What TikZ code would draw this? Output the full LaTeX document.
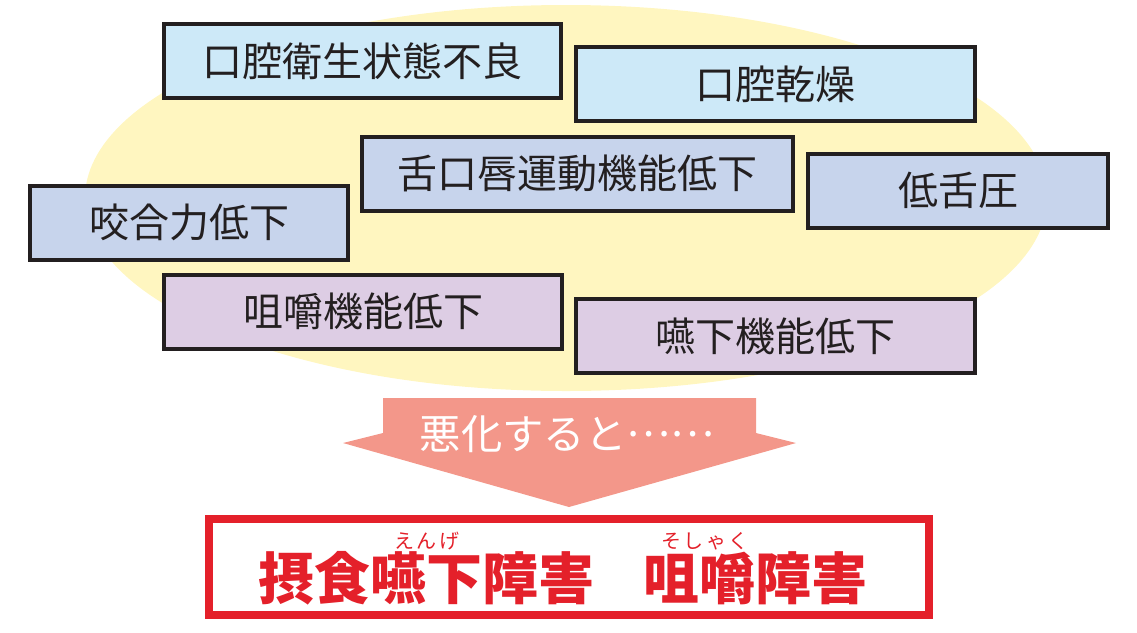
\documentclass[tikz,border=0pt]{standalone}
\usepackage{fontspec}
\newfontfamily\jpfont{Noto Sans CJK JP}
\newfontfamily\rubyfont{Noto Sans CJK JP}[LetterSpace=12]
\definecolor{ink}{HTML}{231F20}
\definecolor{halo}{HTML}{FFF6C0}
\definecolor{oralblue}{HTML}{CDE9F8}
\definecolor{motorblue}{HTML}{C7D4EC}
\definecolor{funcpurple}{HTML}{DDCDE4}
\definecolor{worse}{HTML}{F3978A}
\definecolor{alarm}{HTML}{E4202A}

\begin{document}
\begin{tikzpicture}[
    x=0.75pt, y=-0.75pt,
    every node/.style={font=\jpfont\fontsize{30}{32}\selectfont, text=ink, inner sep=0pt},
    cause/.style={draw=ink, line width=3pt, minimum height=55.5pt},
    oral/.style={cause, fill=oralblue},
    motor/.style={cause, fill=motorblue},
    func/.style={cause, fill=funcpurple},
    result/.style={text=alarm, font=\jpfont\bfseries\fontsize{42}{44}\selectfont},
    ruby/.style={text=alarm, font=\rubyfont\fontsize{15}{17}\selectfont}
]

\useasboundingbox (0,0) rectangle (1137,632);
\fill[halo] (566,198) ellipse [x radius=481, y radius=193];

\node[oral, minimum width=297.75pt] (hygiene) at (362.5,61) {口腔衛生状態不良};
\node[oral, minimum width=299.25pt] (dryness) at (775.5,84) {口腔乾燥};
\node[motor, minimum width=323.25pt] (lipmotor) at (577.5,173.5) {舌口唇運動機能低下};
\node[motor, minimum width=225pt] (tongue) at (958,190.5) {低舌圧};
\node[motor, minimum width=238.5pt] (bite) at (189,222.5) {咬合力低下};
\node[func, minimum width=298.5pt] (chewing) at (363,311.5) {咀嚼機能低下};
\node[func, minimum width=299.25pt] (swallow) at (775.5,336) {嚥下機能低下};

% arrow down to the outcome
\fill[worse] (383,398) -- (756,398) -- (756,433) -- (796,443) -- (569,507)
    -- (343,443) -- (383,433) -- cycle;
\node[text=white, font=\jpfont\fontsize{31}{33}\selectfont] (worsen) at (567,434) {悪化すると\raisebox{0.32em}{……}};

\node[draw=alarm, line width=6pt, fill=white, minimum width=540pt, minimum height=72pt] (outcome) at (569,567) {};
\node[result] (dysphagia) at (426,578) {摂食嚥下障害};
\node[result] (chewdis) at (755,578) {咀嚼障害};
\node[ruby] (enge) at (427,541) {えんげ};
\node[ruby] (soshaku) at (705,541) {そしゃく};

\end{tikzpicture}
\end{document}
